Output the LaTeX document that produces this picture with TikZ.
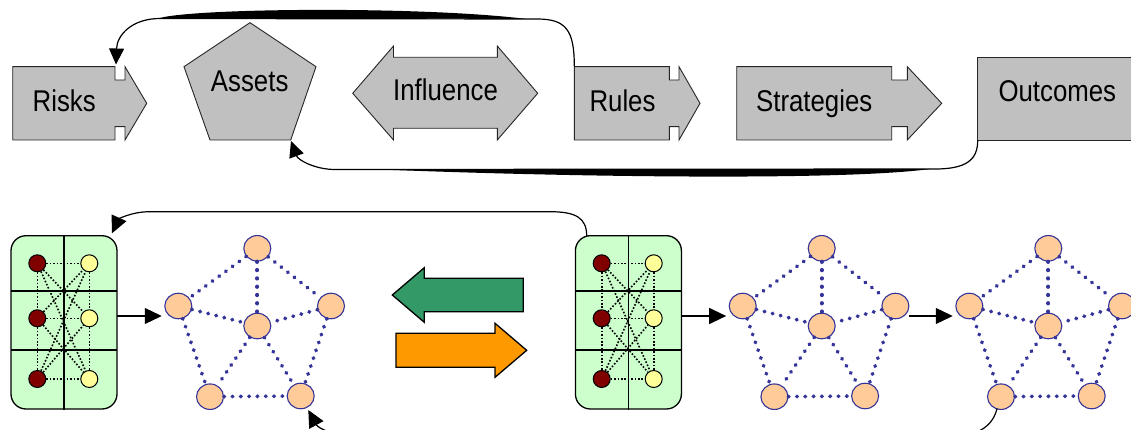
\documentclass[tikz,border=0pt]{standalone}
\usepackage{fontspec}
\setmainfont{Liberation Sans}[FakeStretch=0.86]
\usetikzlibrary{arrows.meta,shapes.geometric}
\definecolor{shapegray}{HTML}{C0C0C0}
\definecolor{boxgreen}{HTML}{CCFFCC}
\definecolor{darkred}{HTML}{800000}
\definecolor{paleyellow}{HTML}{FFFF99}
\definecolor{peach}{HTML}{FFCC99}
\definecolor{gblue}{HTML}{333399}
\definecolor{arrowgreen}{HTML}{339966}
\definecolor{arroworange}{HTML}{FF9900}
\tikzset{
 shapebox/.style={fill=shapegray, draw=black!85, line width=0.9pt, line join=miter},
 labeltext/.style={font=\fontsize{30}{36}\selectfont, anchor=base, inner sep=0pt},
 connector/.style={draw=black, line width=1.2pt},
 bigtip/.style={-{Triangle[length=16pt,width=15pt]}},
 smalltip/.style={-{Triangle[length=17pt,width=16pt]}},
 gnode/.style={ellipse, minimum width=27pt, minimum height=25.5pt, inner sep=0pt, fill=peach, draw=gblue, line width=1.1pt},
 gedge/.style={draw=gblue, line width=3.9pt, line cap=round, dash pattern=on 0.4pt off 7.9pt},
 rnode/.style={circle, minimum size=17pt, inner sep=0pt, fill=darkred, draw=black, line width=1pt},
 ynode/.style={circle, minimum size=17pt, inner sep=0pt, fill=paleyellow, draw=black, line width=1pt},
 fineline/.style={draw=black, line width=1.6pt, dash pattern=on 1.6pt off 1.8pt},
 gridbox/.style={fill=boxgreen, draw=black, line width=1.3pt, rounded corners=15pt},
 divider/.style={draw=black, line width=1.3pt},
 bigarrow/.style={draw=black, line width=1.3pt, line join=miter},
}
\newcommand\notchedarrow[4]{% left, notch1, notch2, tip
 \path[shapebox] (#1,66.7) -- (#2,66.7) -- (#2,80) -- (#3,80) -- (#3,66.7) -- (#4,103.3)
  -- (#3,140) -- (#3,126.7) -- (#2,126.7) -- (#2,140) -- (#1,140) -- cycle;}
\newcommand\drawgridbox[2]{% x offset, prefix
 \begin{scope}[xshift=#1]
  \path[gridbox] (11,235.7) rectangle (117,409);
  \draw[divider] (64,235.7) -- (64,410);
  \draw[divider] (11,291) -- (117,291);
  \draw[divider] (11,350) -- (117,350);
  \node[rnode] (#2r1) at (37.3,263.3) {};
  \node[rnode] (#2r2) at (37.3,318.3) {};
  \node[rnode] (#2r3) at (37.3,379) {};
  \node[ynode] (#2y1) at (89.3,263.3) {};
  \node[ynode] (#2y2) at (89.3,318.3) {};
  \node[ynode] (#2y3) at (89.3,379) {};
  \coordinate (#2out) at (117,316);
 \end{scope}
 \foreach \i in {1,2,3}{\foreach \j in {1,2,3}{\draw[fineline] (#2r\i) -- (#2y\j);}}
 \draw[fineline] (#2r1) -- (#2r2);
 \draw[fineline] (#2r2) -- (#2r3);
 \draw[fineline] (#2y1) -- (#2y2);
 \draw[fineline] (#2y2) -- (#2y3);
}
\newcommand\drawgraph[2]{% x offset, prefix
 \begin{scope}[xshift=#1]
  \node[gnode] (#2T) at (257.3,248.3) {};
  \node[gnode] (#2L) at (178.3,306) {};
  \node[gnode] (#2R) at (331,306) {};
  \node[gnode] (#2C) at (257.3,326) {};
  \node[gnode] (#2BL) at (210,396.7) {};
  \node[gnode] (#2BR) at (300.7,396) {};
 \end{scope}
 \foreach \a/\b in {T/L,T/R,T/C,L/C,R/C,L/BL,R/BR,C/BL,C/BR,BL/BR}{\draw[gedge] (#2\a) -- (#2\b);}
}
\begin{document}
\begin{tikzpicture}[x=1pt,y=-1pt]
\useasboundingbox (0,0) rectangle (1131,430);
\fill[white] (0,0) rectangle (1131,430);
\clip (0,0) rectangle (1131,430);
% ---------- top row ----------
\notchedarrow{12.7}{115}{125}{146.7}
\node[labeltext] (risks) at (64.2,111.7) {Risks};
\path[shapebox] (250,22.7) -- (316,66.7) -- (290.7,140) -- (210,140) -- (184,66.7) -- cycle;
\node[labeltext] (assets) at (249.7,91.7) {Assets};
\path[shapebox] (352.7,93.3) -- (393.5,46) -- (393.5,57.3) -- (497.3,57.3) -- (497.3,46) -- (537.7,93.3)
  -- (497.3,140) -- (497.3,128.3) -- (393.5,128.3) -- (393.5,140) -- cycle;
\node[labeltext] (influence) at (445.5,100.5) {Influence};
\notchedarrow{574.3}{669.3}{679}{700}
\node[labeltext] (rules) at (622.5,111.7) {Rules};
\notchedarrow{736.7}{891.7}{907.3}{941.7}
\node[labeltext] (strategies) at (814.2,111.7) {Strategies};
\path[shapebox] (977.7,57.7) rectangle (1145,140);
\node[labeltext] (outcomes) at (1057.3,101.7) {Outcomes};
\coordinate (rulesNW) at (574.3,66.2);
\coordinate (risksIn) at (116,64.5);
\coordinate (outSW) at (977.7,140.5);
\coordinate (assetsSE) at (291,141);
\draw[connector,bigtip] (rulesNW) .. controls (574.3,30) and (566,19) .. (537,19) -- (160,18.5)
  .. controls (132,18.5) and (117,35) .. (risksIn);
\fill[black] (158,18.5) .. controls (190,8) and (420,6) .. (525,18.8) -- cycle;
\draw[connector,bigtip] (outSW) .. controls (977.7,160) and (966,169) .. (935,169) -- (335,169.5)
  .. controls (315,169.5) and (298,160) .. (assetsSE);
\fill[black] (380,169.5) .. controls (600,178) and (850,180) .. (930,169) -- cycle;
% ---------- bottom row ----------
\drawgridbox{0pt}{A}
\drawgridbox{564.4pt}{B}
\drawgraph{0pt}{g1}
\drawgraph{564.4pt}{g2}
\drawgraph{791pt}{g3}
\path[bigarrow, fill=arrowgreen] (392.3,295) -- (424.3,267.7) -- (424.3,278.3) -- (523.3,278.3)
  -- (523.3,311.7) -- (424.3,311.7) -- (424.3,322.3) -- cycle;
\path[bigarrow, fill=arroworange] (396,333.3) -- (495,333.3) -- (495,323.3) -- (526.7,350.3)
  -- (495,377.3) -- (495,367.3) -- (396,367.3) -- cycle;
\draw[connector,smalltip,shorten >=2.5pt] (Aout) -- (Aout -| g1L.west);
\draw[connector,smalltip,shorten >=2.5pt] (Bout) -- (Bout -| g2L.west);
\draw[connector,smalltip,shorten >=2.5pt] (g2R.east |- Bout) -- (g3L.west |- Bout);
\coordinate (BNW) at (586.7,236);
\coordinate (Ain) at (112,233.3);
\draw[connector,smalltip] (BNW) .. controls (586.7,218) and (576,211.7) .. (550,211.7) -- (150,211.7)
  .. controls (130,211.7) and (118,220) .. (Ain);
\coordinate (g3out) at (997,408.5);
\coordinate (g1in) at (308.3,410);
\draw[connector,smalltip] (g3out) .. controls (993,425) and (980,436) .. (950,437) -- (360,437)
  .. controls (335,437) and (318,428) .. (g1in);
\end{tikzpicture}
\end{document}
